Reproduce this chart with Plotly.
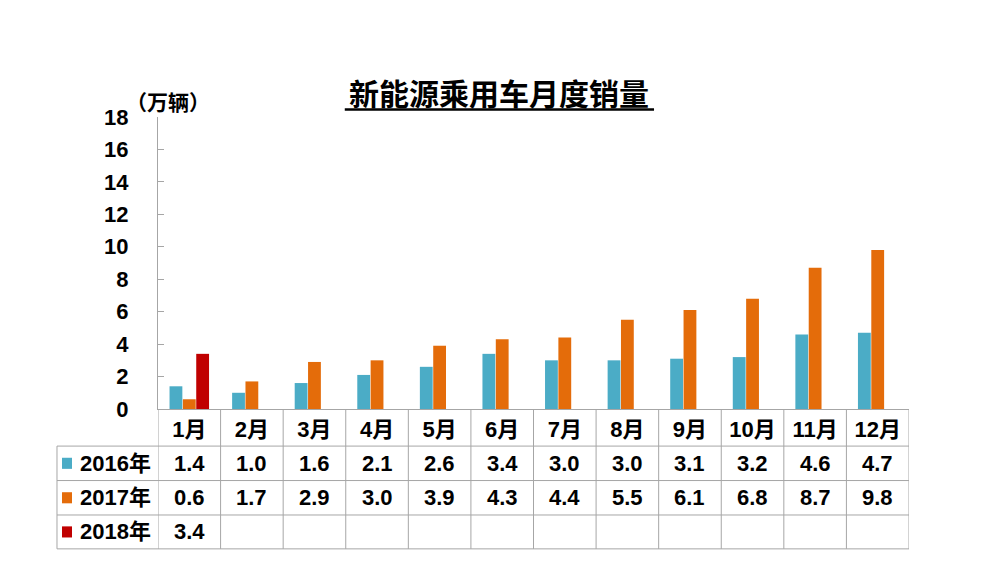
import plotly.graph_objects as go

months = ['1月', '2月', '3月', '4月', '5月', '6月', '7月', '8月', '9月', '10月', '11月', '12月']
sales_2016 = [1.4, 1.0, 1.6, 2.1, 2.6, 3.4, 3.0, 3.0, 3.1, 3.2, 4.6, 4.7]
sales_2017 = [0.6, 1.7, 2.9, 3.0, 3.9, 4.3, 4.4, 5.5, 6.1, 6.8, 8.7, 9.8]
sales_2018 = [3.4, None, None, None, None, None, None, None, None, None, None, None]
series_names = ['2016年', '2017年', '2018年']
series_colors = ['#4BACC6', '#E46C0A', '#C00000']
y_ticks = list(range(0, 20, 2))

FONT = 'Liberation Sans, Arial, Noto Sans CJK SC'
GRID = '#A6A6A6'

# table row boundaries in paper units (plot area is 292px tall)
row_lines = [0, -0.127, -0.245, -0.363, -0.479]
table_left = -0.1345

fig = go.Figure()
for name, vals, col in zip(series_names, [sales_2016, sales_2017, sales_2018], series_colors):
    fig.add_trace(go.Bar(x=months, y=vals, name=name, marker=dict(color=col, line=dict(width=0)),
                         showlegend=False, hoverinfo='skip'))

shapes = []
# horizontal table lines
for yl in row_lines[1:]:
    shapes.append(dict(type='line', xref='paper', yref='paper', x0=table_left, x1=1, y0=yl, y1=yl,
                       line=dict(color=GRID, width=1)))
# vertical lines between months
for i in range(len(months) + 1):
    shapes.append(dict(type='line', xref='x', yref='paper', x0=i - 0.5, x1=i - 0.5,
                       y0=0, y1=row_lines[-1], line=dict(color=GRID, width=1)))
# left edge of the table body
shapes.append(dict(type='line', xref='paper', yref='paper', x0=table_left, x1=table_left,
                   y0=row_lines[1], y1=row_lines[-1], line=dict(color=GRID, width=1)))

annotations = []
table_rows = [sales_2016, sales_2017, sales_2018]
for r, (name, vals, col) in enumerate(zip(series_names, table_rows, series_colors)):
    yc = (row_lines[r + 1] + row_lines[r + 2]) / 2
    # legend key square
    shapes.append(dict(type='rect', xref='paper', yref='paper', x0=-0.1278, x1=-0.1145,
                       y0=yc - 0.019, y1=yc + 0.019, fillcolor=col, line=dict(width=0)))
    annotations.append(dict(x=-0.006, y=yc, xref='paper', yref='paper', text=name,
                            showarrow=False, xanchor='right', yanchor='middle',
                            font=dict(size=22, color='black', family=FONT, weight='bold')))
    for m, v in zip(months, vals):
        if v is None:
            continue
        annotations.append(dict(x=m, y=yc, xref='x', yref='paper', text='%.1f' % v,
                                showarrow=False, xanchor='center', yanchor='middle',
                                font=dict(size=22, color='black', family=FONT, weight='bold')))

# unit label
annotations.append(dict(x=0.013, y=1.055, xref='paper', yref='paper', text='（万辆）',
                        showarrow=False, xanchor='center', yanchor='middle',
                        font=dict(size=21, color='black', family='Noto Sans CJK SC', weight='bold')))
# title
annotations.append(dict(x=0.454, y=1.085, xref='paper', yref='paper', text='新能源乘用车月度销量',
                        showarrow=False, xanchor='center', yanchor='middle',
                        font=dict(size=30, color='black', family='Noto Sans CJK SC', weight='bold')))
shapes.append(dict(type='line', xref='paper', yref='paper', x0=0.2487, x1=0.6605, y0=1.026, y1=1.026,
                   line=dict(color='black', width=2.5)))

fig.update_layout(
    width=1000, height=586, autosize=False,
    margin=dict(l=158, r=91, t=117, b=177),
    paper_bgcolor='white', plot_bgcolor='white',
    barmode='group', bargap=0.36, bargroupgap=0.04,
    shapes=shapes, annotations=annotations,
    xaxis=dict(type='category', range=[-0.5, 11.5], showline=True, linecolor=GRID, linewidth=1,
               ticks='', showgrid=False, zeroline=False, ticklabelstandoff=1,
               tickfont=dict(size=22, color='black', family=FONT, weight='bold')),
    yaxis=dict(range=[0, 18], tickvals=y_ticks, showline=True, linecolor=GRID, linewidth=1,
               ticks='inside', ticklen=6, tickcolor=GRID, showgrid=False, zeroline=False,
               ticklabelstandoff=24, tickfont=dict(size=22, color='black', family=FONT, weight='bold')),
)

fig.write_html("out.html", config={'displayModeBar': False},
               post_script="document.body.style.margin='0';")
